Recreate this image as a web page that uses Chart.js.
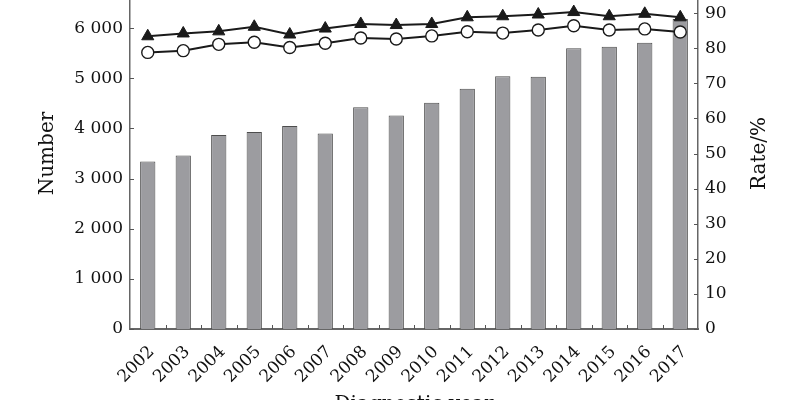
<!DOCTYPE html>
<html>
<head>
<meta charset="utf-8">
<script src="https://cdn.jsdelivr.net/npm/chart.js@4.4.1/dist/chart.umd.min.js"></script>
<style>
  html, body { margin: 0; padding: 0; background: #fff; overflow: hidden; width: 800px; height: 400px; }
  #wrap { position: absolute; left: 0; top: -40px; width: 800px; height: 480px; }
</style>
</head>
<body>
<div id="wrap"><canvas id="c"></canvas></div>
<script>
const years = ['2002','2003','2004','2005','2006','2007','2008','2009','2010','2011','2012','2013','2014','2015','2016','2017'];
const numbers = [3340, 3460, 3870, 3930, 4050, 3900, 4420, 4260, 4510, 4790, 5040, 5030, 5600, 5630, 5710, 6180];
const rateTriangle = [83.4, 84.2, 84.8, 86.1, 83.9, 85.6, 86.9, 86.6, 86.9, 88.8, 89.1, 89.6, 90.3, 89.1, 89.8, 88.8];
const rateCircle = [78.8, 79.3, 81.1, 81.7, 80.2, 81.4, 82.9, 82.6, 83.5, 84.7, 84.3, 85.2, 86.4, 85.2, 85.5, 84.6];
const leftTicks = [0, 1000, 2000, 3000, 4000, 5000, 6000, 7000];
const rightTicks = [0, 10, 20, 30, 40, 50, 60, 70, 80, 90, 100];

const FONT = 'DejaVu Serif';
const TXT = '#111';
const inwardTicks = {
  id: 'inwardTicks',
  afterDraw(chart) {
    const ctx = chart.ctx, a = chart.chartArea;
    const sx = chart.scales.x, sy = chart.scales.y, sy1 = chart.scales.y1;
    ctx.save();
    ctx.strokeStyle = '#555';
    ctx.lineWidth = 1;
    ctx.beginPath();
    leftTicks.forEach(v => { const y = Math.round(sy.getPixelForValue(v)) + 0.5; ctx.moveTo(a.left, y); ctx.lineTo(a.left + 4, y); });
    rightTicks.forEach(v => { const y = Math.round(sy1.getPixelForValue(v)) + 0.5; ctx.moveTo(a.right, y); ctx.lineTo(a.right - 4, y); });
    for (let i = 1; i < years.length; i++) {
      const x = Math.round((sx.getPixelForValue(i - 1) + sx.getPixelForValue(i)) / 2) + 0.5;
      ctx.moveTo(x, a.bottom); ctx.lineTo(x, a.bottom - 4);
    }
    ctx.stroke();
    // right axis title, reading bottom to top
    ctx.fillStyle = TXT;
    ctx.font = '20px "' + FONT + '"';
    ctx.textAlign = 'center';
    ctx.textBaseline = 'middle';
    ctx.translate(760, (a.top + a.bottom) / 2);
    ctx.rotate(-Math.PI / 2);
    ctx.fillText('Rate/%', 0, 0);
    ctx.restore();
  }
};

const fmt = v => v >= 1000 ? Math.floor(v / 1000) + ' ' + String(v % 1000).padStart(3, '0') : String(v);

new Chart(document.getElementById('c'), {
  data: {
    labels: years,
    datasets: [
      { type: 'line', label: 'Rate A', data: rateTriangle, yAxisID: 'y1', order: 0,
        borderColor: '#1a1a1a', borderWidth: 2, pointStyle: 'triangle', pointRadius: 7,
        pointBackgroundColor: '#1a1a1a', pointBorderColor: '#1a1a1a', pointBorderWidth: 1, tension: 0 },
      { type: 'line', label: 'Rate B', data: rateCircle, yAxisID: 'y1', order: 1,
        borderColor: '#1a1a1a', borderWidth: 2, pointStyle: 'circle', pointRadius: 6,
        pointBackgroundColor: '#ffffff', pointBorderColor: '#1a1a1a', pointBorderWidth: 1.4, tension: 0 },
      { type: 'bar', label: 'Number', data: numbers, yAxisID: 'y', order: 2,
        backgroundColor: '#9c9ca0', borderColor: '#4d4d4d', borderWidth: 1,
        barPercentage: 0.43, categoryPercentage: 1.0 }
    ]
  },
  options: {
    responsive: true, maintainAspectRatio: false, animation: false,
    layout: { padding: { top: 18, left: 0, right: 0, bottom: 23 } },
    plugins: { legend: { display: false }, tooltip: { enabled: false } },
    scales: {
      x: {
        type: 'category', offset: true,
        grid: { display: false },
        border: { display: true, color: '#666', width: 2 },
        ticks: { color: TXT, font: { family: FONT, size: 17 }, maxRotation: 45, minRotation: 45, padding: 5, labelOffset: 4, autoSkip: false },
        title: { display: true, text: 'Diagnostic year', color: TXT, font: { family: FONT, size: 20 }, padding: { top: 0, bottom: 0 } },
        afterFit(s) { s.height = 88; }
      },
      y: {
        position: 'left', min: 0, max: 7000,
        afterBuildTicks(s) { s.ticks = leftTicks.map(v => ({ value: v })); },
        grid: { display: false, drawTicks: false },
        border: { display: true, color: '#666', width: 1.5 },
        ticks: { color: TXT, font: { family: FONT, size: 17 }, padding: 7, callback: v => fmt(v) },
        title: { display: true, text: 'Number', color: TXT, font: { family: FONT, size: 20 }, padding: { top: 36, bottom: 0 } },
        afterFit(s) { s.width = 130; }
      },
      y1: {
        position: 'right', min: 0, max: 100,
        afterBuildTicks(s) { s.ticks = rightTicks.map(v => ({ value: v })); },
        grid: { display: false, drawTicks: false },
        border: { display: true, color: '#666', width: 1.5 },
        ticks: { color: TXT, font: { family: FONT, size: 17 }, padding: 7 },
        title: { display: false },
        afterFit(s) { s.width = 102; }
      }
    }
  },
  plugins: [inwardTicks]
});
</script>
</body>
</html>
